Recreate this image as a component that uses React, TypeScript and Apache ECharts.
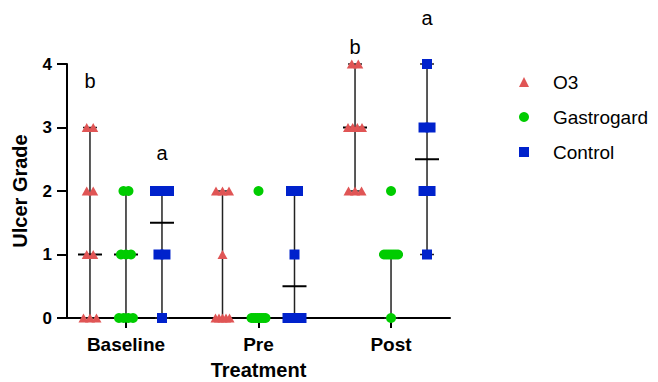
import React, { useEffect, useRef } from "react";
import * as echarts from "echarts";

// ---------- data ----------
const categories = ["Baseline", "Pre", "Post"];
const seriesNames = ["O3", "Gastrogard", "Control"];

// individual ulcer grades per treatment phase (Baseline, Pre, Post)
const o3Values = [
  [3, 3, 2, 2, 1, 1, 0, 0, 0],
  [2, 2, 2, 1, 0, 0, 0, 0, 0],
  [4, 4, 3, 3, 3, 3, 2, 2, 2],
];
const gastroValues = [
  [2, 2, 1, 1, 1, 0, 0, 0, 0],
  [2, 0, 0, 0, 0, 0, 0, 0, 0],
  [2, 1, 1, 1, 1, 1, 1, 1, 0],
];
const controlValues = [
  [2, 2, 2, 1, 1, 0],
  [2, 2, 1, 0, 0, 0],
  [4, 3, 3, 2, 2, 1],
];

// median line and error bar (low / high) per phase
const o3Median = [1, 0, 3];
const o3Low = [0, 0, 2];
const o3High = [3, 2, 4];
const gastroMedian = [1, 0, 1];
const gastroLow = [0, 0, 0];
const gastroHigh = [2, 0, 1];
const controlMedian = [1.5, 0.5, 2.5];
const controlLow = [0, 0, 1];
const controlHigh = [2, 2, 4];

// significance letters
const letterText = ["b", "a", "b", "a"];
const letterCategory = [0, 0, 2, 2];
const letterGroup = [0, 2, 0, 2];
const letterY = [3.74, 2.6, 4.27, 4.72];

const yMin = 0;
const yMax = 4;
const yInterval = 1;

// ---------- styles ----------
const colors = ["#E05555", "#00CC00", "#0022CC"];
const symbols = ["triangle", "circle", "rect"];
const symbolSizes: any[] = [[10, 9], 10, 10];
const jitterStep = [6.5, 5, 7];
const maxSpread = 14;
const groupOffsetPx = [-36, 0, 36];
const FONT = "'Liberation Sans', Arial, Helvetica, sans-serif";

const allValues = [o3Values, gastroValues, controlValues];
const allMedian = [o3Median, gastroMedian, controlMedian];
const allLow = [o3Low, gastroLow, controlLow];
const allHigh = [o3High, gastroHigh, controlHigh];

function buildScatter(g: number) {
  const out: any[] = [];
  allValues[g].forEach((vals, c) => {
    const counts: Record<string, number> = {};
    vals.forEach((v) => (counts[v] = (counts[v] || 0) + 1));
    const seen: Record<string, number> = {};
    vals.forEach((v) => {
      const k = counts[v];
      const i = seen[v] || 0;
      seen[v] = i + 1;
      const step = k > 1 ? Math.min(jitterStep[g], maxSpread / (k - 1)) : 0;
      const dx = (i - (k - 1) / 2) * step;
      out.push({ value: [c + 1, v], symbolOffset: [groupOffsetPx[g] + dx, 0] });
    });
  });
  return out;
}

const barData: number[][] = [];
for (let g = 0; g < 3; g++) {
  for (let c = 0; c < categories.length; c++) {
    barData.push([c + 1, g, allLow[g][c], allHigh[g][c], allMedian[g][c]]);
  }
}

const letterData = letterText.map((t, i) => [letterCategory[i] + 1, letterGroup[i], letterY[i], i]);

export default function App() {
  const ref = useRef<HTMLDivElement>(null);

  useEffect(() => {
    if (!ref.current) return;
    const chart = echarts.init(ref.current, null, { renderer: "svg" });

    const option: any = {
      animation: false,
      backgroundColor: "#ffffff",
      grid: {
        left: 67,
        right: 208,
        top: 64,
        bottom: 64,
        containLabel: false,
        outerBoundsMode: "none",
      },
      legend: {
        data: seriesNames,
        orient: "vertical",
        left: 519,
        top: 72,
        padding: 0,
        itemWidth: 10,
        itemHeight: 10,
        itemGap: 15,
        textStyle: {
          fontSize: 19,
          fontFamily: FONT,
          color: "#000",
          lineHeight: 20,
          padding: [0, 0, 0, 19],
        },
      },
      xAxis: {
        type: "value",
        min: 0.555,
        max: 3.445,
        name: "Treatment",
        nameLocation: "middle",
        nameGap: 42,
        nameTextStyle: { fontSize: 20, fontWeight: "bold", fontFamily: FONT, color: "#000" },
        axisLine: { show: true, lineStyle: { color: "#000", width: 2 } },
        axisTick: {
          show: true,
          customValues: [1, 2, 3],
          length: 10,
          lineStyle: { color: "#000", width: 2 },
        },
        axisLabel: {
          show: true,
          customValues: [1, 2, 3],
          formatter: (v: number) => categories[Math.round(v) - 1] ?? "",
          fontSize: 19,
          fontWeight: "bold",
          fontFamily: FONT,
          color: "#000",
          margin: 17,
        },
        splitLine: { show: false },
      },
      yAxis: {
        type: "value",
        min: yMin,
        max: yMax,
        interval: yInterval,
        name: "Ulcer Grade",
        nameLocation: "middle",
        nameGap: 37,
        nameTextStyle: { fontSize: 20, fontWeight: "bold", fontFamily: FONT, color: "#000" },
        axisLine: { show: true, lineStyle: { color: "#000", width: 2 } },
        axisTick: { show: true, length: 10, lineStyle: { color: "#000", width: 2 } },
        axisLabel: {
          fontSize: 17,
          fontWeight: "bold",
          fontFamily: FONT,
          color: "#000",
          margin: 15,
        },
        splitLine: { show: false },
      },
      series: [
        {
          type: "custom",
          name: "bars",
          z: 1,
          silent: true,
          encode: { x: 0, y: [2, 3, 4] },
          data: barData,
          renderItem: (params: any, api: any) => {
            const cat = api.value(0);
            const g = api.value(1);
            const lo = api.value(2);
            const hi = api.value(3);
            const med = api.value(4);
            const pLo = api.coord([cat, lo]);
            const pHi = api.coord([cat, hi]);
            const pMed = api.coord([cat, med]);
            const x = pLo[0] + groupOffsetPx[g];
            const children: any[] = [];
            if (hi > lo) {
              children.push({
                type: "line",
                shape: { x1: x, y1: pLo[1], x2: x, y2: pHi[1] },
                style: { stroke: "#222", lineWidth: 1.5 },
              });
              [pLo[1], pHi[1]].forEach((y) =>
                children.push({
                  type: "line",
                  shape: { x1: x - 7, y1: y, x2: x + 7, y2: y },
                  style: { stroke: "#222", lineWidth: 1.5 },
                })
              );
            }
            children.push({
              type: "line",
              shape: { x1: x - 12, y1: pMed[1], x2: x + 12, y2: pMed[1] },
              style: { stroke: "#000", lineWidth: 2 },
            });
            return { type: "group", children };
          },
        },
        ...seriesNames.map((name, g) => ({
          type: "scatter",
          name,
          z: 3,
          symbol: symbols[g],
          symbolSize: symbolSizes[g],
          itemStyle: { color: colors[g], opacity: 1 },
          data: buildScatter(g),
        })),
        {
          type: "custom",
          name: "letters",
          z: 4,
          silent: true,
          encode: { x: 0, y: 2 },
          data: letterData,
          renderItem: (params: any, api: any) => {
            const cat = api.value(0);
            const g = api.value(1);
            const y = api.value(2);
            const idx = api.value(3);
            const p = api.coord([cat, y]);
            return {
              type: "text",
              x: p[0] + groupOffsetPx[g],
              y: p[1],
              style: {
                text: letterText[idx],
                fontSize: 20,
                fontFamily: FONT,
                fill: "#000",
                align: "center",
                verticalAlign: "middle",
              },
            };
          },
        },
      ],
    };

    chart.setOption(option);
    return () => chart.dispose();
  }, []);

  return (
    <div
      ref={ref}
      style={{ position: "fixed", left: 0, top: 0, width: 658, height: 382, background: "#fff" }}
    />
  );
}
